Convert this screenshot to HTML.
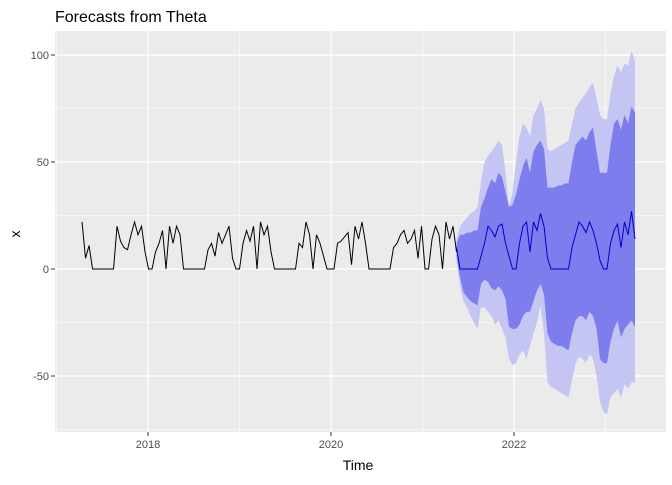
<!DOCTYPE html>
<html><head><meta charset="utf-8"><style>
body{margin:0;background:#fff;font-family:"Liberation Sans",sans-serif;}
svg text{font-family:"Liberation Sans",sans-serif;}
</style></head><body>
<svg id="chart" width="672" height="480" xmlns="http://www.w3.org/2000/svg">
<text x="55" y="22" font-size="16" fill="#000">Forecasts from Theta</text>
<rect x="55" y="31" width="611" height="401" fill="#EBEBEB"/>
<g id="grid"></g><g id="bands"></g><g id="lines"></g><g id="axes"></g>
<text x="358" y="470" font-size="14" text-anchor="middle">Time</text>
<text x="20" y="234" font-size="14" text-anchor="middle" transform="rotate(-90 20 234)">x</text>
</svg>
<script>
const t0 = 2017.279, dt = 0.03825;
const history = [22,5,11,0,0,0,0,0,0,0,20,13,10,9,16,22,16,20,8,0,0,8,12,18,0,20,12,20,16,0,0,0,0,0,0,0,9,12,6,17,12,16,20,5,0,0,12,18,13,20,0,22,16,20,8,0,0,0,0,0,0,0,12,10,22,16,0,16,12,6,0,0,0,12,13,15,17,2,20,14,22,12,0,0,0,0,0,0,0,10,12,16,18,12,14,18,5,20,0,0,14,20,16,0,22,14,20,8];
const fcMean = [10,0,0,0,0,0,0,6,12,20,18,15,20,21,12,6,0,0,12,20,22,8,22,18,26,20,5,0,0,0,0,0,0,10,16,22,20,17,22,18,12,4,0,0,12,18,21,10,22,16,27,14];
const up80 = [12,16,16,17,17,18,18,29,33,38,42,40,45,43,36,29,30,35,42,48,52,45,55,58,60,56,38,38,38,39,39,40,40,50,58,60,62,60,64,66,55,45,45,45,58,68,70,65,72,68,76,73];
const lo80 = [6,-4,-11,-13,-15,-16,-17,-7,-5,-6,-9,-10,-8,-10,-14,-27,-28,-28,-26,-22,-20,-20,-15,-10,-7,-12,-30,-34,-35,-36,-36,-37,-38,-30,-24,-22,-22,-24,-20,-22,-28,-42,-44,-44,-34,-28,-24,-32,-28,-26,-24,-27];
const up95 = [14,20,22,24,26,27,29,41,50,53,55,57,60,58,45,29,36,50,62,68,66,62,72,75,79,75,56,55,56,57,58,59,60,68,75,78,80,82,85,87,80,72,70,70,82,90,95,92,96,95,102,97];
const lo95 = [4,-8,-15,-18,-22,-25,-28,-18,-18,-20,-22,-26,-24,-28,-32,-42,-45,-44,-40,-38,-42,-36,-30,-25,-17,-30,-53,-55,-56,-57,-58,-59,-60,-52,-44,-41,-42,-44,-40,-42,-50,-62,-67,-68,-60,-58,-56,-60,-54,-56,-53,-53];
const yTicks = [-50,0,50,100];
const yMinor = [-75,-25,25,75];
const xTicks = [2018,2020,2022];
const xMinor = [2017,2019,2021,2023];

const X = t => 148 + (t-2018)*91.5;
const Y = v => 269 - v*2.14;
const NS = "http://www.w3.org/2000/svg";
function mk(parent, tag, attrs){const e=document.createElementNS(NS,tag);for(const k in attrs)e.setAttribute(k,attrs[k]);document.getElementById(parent).appendChild(e);return e;}

yMinor.forEach(v=>{const l=mk('grid','line',{x1:55,x2:666,y1:Y(v),y2:Y(v),stroke:'#fff','stroke-width':0.6});

});
xMinor.forEach(v=>{const l=mk('grid','line',{x1:X(v),x2:X(v),y1:31,y2:432,stroke:'#fff','stroke-width':0.6});

});
yTicks.forEach(v=>{const l=mk('grid','line',{x1:55,x2:666,y1:Y(v),y2:Y(v),stroke:'#fff','stroke-width':1.2});


const tk=mk('axes','line',{x1:51,x2:55,y1:Y(v),y2:Y(v),stroke:'#333','stroke-width':1});


const t=mk('axes','text',{x:49,y:Y(v)+4,'font-size':11,'text-anchor':'end',fill:'#4D4D4D'});t.textContent=v;

});
xTicks.forEach(v=>{const l=mk('grid','line',{x1:X(v),x2:X(v),y1:31,y2:432,stroke:'#fff','stroke-width':1.2});


const tk=mk('axes','line',{x1:X(v),x2:X(v),y1:432,y2:436,stroke:'#333','stroke-width':1});


const t=mk('axes','text',{x:X(v),y:448,'font-size':11,'text-anchor':'middle',fill:'#4D4D4D'});t.textContent=v;

});

const n0 = history.length-1;
const ft = i => t0 + (n0+i)*dt;
function band(up, lo){
  let pts=[];
  up.forEach((v,i)=>pts.push(X(ft(i))+','+Y(v)));
  for(let i=lo.length-1;i>=0;i--)pts.push(X(ft(i))+','+Y(lo[i]));
  return pts.join(' ');
}
const b95=mk('bands','polygon',{points:band(up95,lo95),fill:'#C5C5F4'});


const b80=mk('bands','polygon',{points:band(up80,lo80),fill:'#7D7DEE'});



const hp=history.map((v,i)=>X(t0+i*dt)+','+Y(v)).join(' ');
const hl=mk('lines','polyline',{points:hp,fill:'none',stroke:'#000','stroke-width':1});


const fp=fcMean.map((v,i)=>X(ft(i))+','+Y(v)).join(' ');
const fl=mk('lines','polyline',{points:fp,fill:'none',stroke:'#0000CC','stroke-width':1});


</script>
</body></html>
